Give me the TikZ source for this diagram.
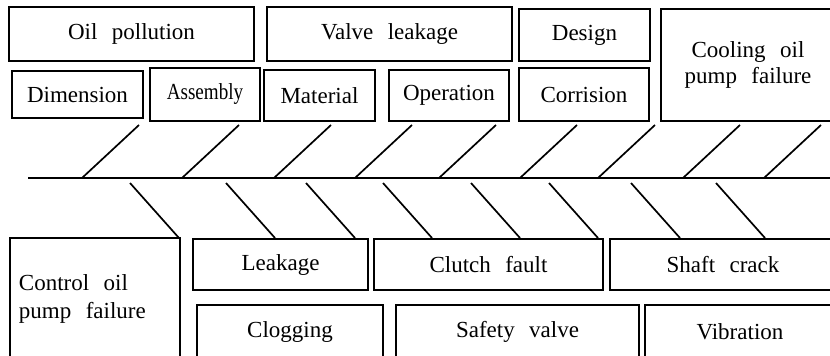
\documentclass[tikz,border=0pt]{standalone}
\usepackage{fontspec}
\setmainfont{Liberation Serif}[WordSpace={2.5,1,1}]
\usetikzlibrary{positioning}
\tikzset{
  cause/.style ={draw, line width=1.8pt, inner sep=0pt, align=center,
                 font=\fontsize{23}{26}\selectfont},
  rib/.style   ={line width=1.7pt},
  spine/.style ={line width=1.8pt},
}

\begin{document}
\begin{tikzpicture}[x=1pt, y=-1pt, line cap=butt, line join=miter]
  \useasboundingbox (0,0) rectangle (830,356);
  \clip (0,0) rectangle (830,356);

  %--- Upper causes ---
  \node[cause, minimum width=245, minimum height=54] (oil)     at (131.5,34)  {Oil pollution};
  \node[cause, minimum width=245, minimum height=54] (valve)   at (389.5,34)  {Valve leakage};
  \node[cause, minimum width=131, minimum height=52] (design)  at (584.5,35)  {Design};
  \node[cause, minimum width=174, minimum height=112] (cooling) at (748,65)   {Cooling oil\\pump failure};
  \node[cause, minimum width=131, minimum height=47] (dim)     at (77.5,94.5) {Dimension};
  \node[cause, minimum width=110, minimum height=53] (asm)     at (205,94.5)  {\scalebox{0.83}[1]{Assembly}};
  \node[cause, minimum width=111, minimum height=51] (mat)     at (319.5,95.5){Material};
  \node[cause, minimum width=120, minimum height=51] (oper)    at (449,95.5)  {Operation};
  \node[cause, minimum width=130, minimum height=53] (corr)    at (584,94.5)  {Corrision};

  %--- Lower causes ---
  \node[cause, minimum width=170, minimum height=122, text width=152, align=flush left,
        font=\fontsize{23}{28}\selectfont] (ctrl) at (95,299) {Control oil\\pump failure};
  \node[cause, minimum width=175, minimum height=51] (leak)    at (280.5,264.5) {Leakage};
  \node[cause, minimum width=229, minimum height=51] (clutch)  at (488.5,264.5) {Clutch fault};
  \node[cause, minimum width=226, minimum height=51] (shaft)   at (723,264.5)   {Shaft crack};
  \node[cause, minimum width=186, minimum height=54] (clog)    at (290,332)     {Clogging};
  \node[cause, minimum width=243, minimum height=54] (safety)  at (517.5,332)   {Safety valve};
  \node[cause, minimum width=190, minimum height=54] (vib)     at (740,332)     {Vibration};

  %--- Spine ---
  \coordinate (head) at (28,178);
  \coordinate (tail) at (834,178);
  \draw[spine] (head) -- (tail);

  %--- Ribs above the spine ---
  \foreach \x [count=\i] in {82,182,274,355,439,520,598,683,764} {
    \coordinate (up\i) at (\x,178);
    \draw[rib] (up\i) -- ++(57,-53);
  }

  %--- Ribs below the spine ---
  \foreach \x [count=\i] in {130,226,306,383,471,549,631,716} {
    \coordinate (dn\i) at (\x,183);
    \draw[rib] (dn\i) -- ++(49,55);
  }
\end{tikzpicture}
\end{document}
